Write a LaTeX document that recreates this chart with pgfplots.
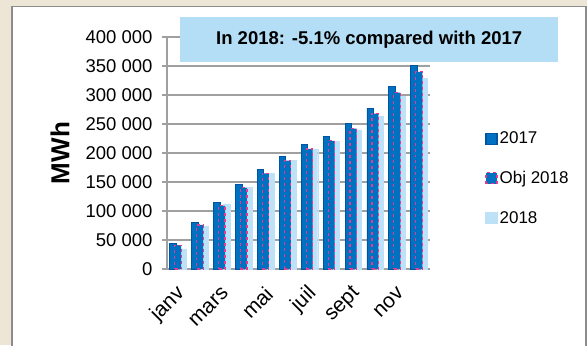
\documentclass[border=0pt]{standalone}
\usepackage{fontspec}
\setmainfont{Liberation Sans}
\usepackage{pgfplots}
\pgfplotsset{compat=1.18}
\definecolor{beige}{RGB}{237,229,214}
\definecolor{titlebg}{RGB}{180,222,245}
\definecolor{blueA}{RGB}{0,112,192}
\definecolor{blueAedge}{RGB}{0,84,160}
\definecolor{pinkO}{RGB}{232,56,143}
\definecolor{lightB}{RGB}{189,226,247}
\definecolor{gridg}{RGB}{160,160,160}
\begin{document}
\begin{tikzpicture}[x=1bp,y=1bp]
\fill[beige] (0,0) rectangle (587,345);
\useasboundingbox (0,0) rectangle (587,345);
\filldraw[fill=white, draw=gray!90, line width=1.5bp] (12,-5) rectangle (586,338.5);
\begin{axis}[
  at={(167bp,76bp)}, anchor=south west,
  scale only axis, width=263bp, height=232bp,
  xmin=-0.5, xmax=11.5, ymin=0, ymax=400000,
  scaled y ticks=false,
  /pgf/number format/assume math mode=true,
  axis lines=left,
  axis line style={draw=gridg, line width=1.5bp, -},
  ymajorgrids, grid style={draw=gridg, line width=1.5bp},
  ytick={0,50000,100000,150000,200000,250000,300000,350000,400000},
  yticklabels={0,50 000,100 000,150 000,200 000,250 000,300 000,350 000,400 000},
  ytick style={draw=gridg, line width=1.5bp},
  tick align=outside, major tick length=5bp,
  xtick={0,2,4,6,8,10},
  xticklabels={janv,mars,mai,juil,sept,nov},
  x tick style={draw=none},
  yticklabel style={font=\fontsize{18.5bp}{21bp}\selectfont, xshift=-6bp},
  xticklabel style={font=\fontsize{21bp}{24bp}\selectfont, yshift=-14bp, xshift=6bp, rotate=45, anchor=east},
  ylabel={\textbf{MWh}},
  ylabel style={font=\fontsize{26bp}{30bp}\selectfont, at={(axis description cs:-0.407,0.5)}, anchor=center},
  ybar, bar width=6.5bp,
  legend cell align=left,
  legend style={at={(axis description cs:1.21,0.60)}, anchor=north west, draw=none, fill=none,
    font=\fontsize{17bp}{20bp}\selectfont, row sep=22bp, inner sep=0pt},
  legend image code/.code={\draw[#1, line width=1.2bp] (0bp,-5.5bp) rectangle (11bp,5.5bp);},
]
\addplot[fill=lightB, draw=lightB, bar shift=5bp, forget plot] coordinates {
(0,34500) (1,74000) (2,112500) (3,141000) (4,165000) (5,187000)
(6,207000) (7,220000) (8,240000) (9,264000) (10,298000) (11,329000)};
\addplot[fill=blueA, draw=blueAedge, line width=0.8bp, bar shift=-5bp] coordinates {
(0,44000) (1,80000) (2,114000) (3,146000) (4,171000) (5,194500)
(6,215000) (7,228500) (8,251000) (9,277500) (10,314000) (11,350500)};
\addplot[fill=blueA, draw=pinkO, line width=1.2bp, dashed, bar shift=0bp] coordinates {
(0,41000) (1,76000) (2,109000) (3,140000) (4,165000) (5,187000)
(6,207000) (7,221000) (8,242000) (9,268000) (10,304000) (11,340000)};
\addplot[fill=lightB, draw=lightB, bar shift=5bp] coordinates {(0,0)};
\legend{2017,Obj 2018,2018}
\end{axis}
\node[fill=titlebg, minimum width=378bp, minimum height=45bp, anchor=north west, inner sep=0pt,
  font=\fontsize{18.5bp}{22bp}\selectfont\bfseries] at (180,328) {In 2018: -5.1\% compared with 2017};
\end{tikzpicture}
\end{document}
